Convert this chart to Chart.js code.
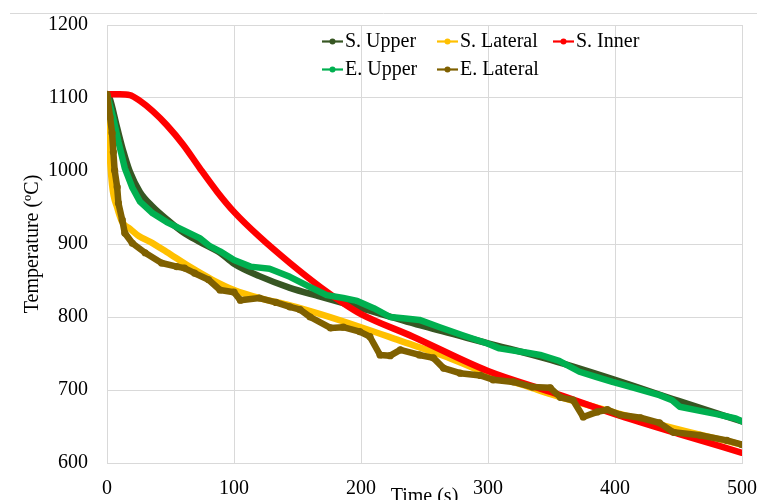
<!DOCTYPE html>
<html>
<head>
<meta charset="utf-8">
<script src="https://cdn.jsdelivr.net/npm/chart.js@4.4.1/dist/chart.umd.min.js"></script>
<style>
  html, body { margin: 0; padding: 0; background: #fff; }
  #wadah { width: 757px; height: 500px; }
</style>
</head>
<body>
<div id="wadah"><canvas id="grafikSuhu" width="757" height="500"></canvas></div>
<script>
// Data: waktu (s) dan suhu (ºC) per seri
const namaSeri = ['S. Upper', 'S. Lateral', 'S. Inner', 'E. Upper', 'E. Lateral'];
const warnaSeri = ['#375623', '#FFC000', '#FF0000', '#00B050', '#7F6000'];

const sUpperWaktu = [0, 2, 8, 13, 18, 26, 36, 47, 60, 73, 89, 100, 120, 144, 168, 200, 250, 300, 350, 400, 450, 500];
const sUpperSuhu = [1105, 1100, 1059, 1026, 999, 971, 951, 934, 916, 903, 888, 873, 856, 840, 828, 812, 787, 764, 741, 714, 685, 657];

const sLateralWaktu = [0, 1.3, 4, 8, 12, 18, 25, 34, 47, 65, 83, 100, 120, 144, 168, 200, 230, 268, 300, 331, 350, 400, 450, 500];
const sLateralSuhu = [1105, 1049, 981, 950, 930, 921, 911, 903, 889, 869, 851, 837, 826, 816, 804, 786, 768, 745, 722, 705, 694, 669, 646, 625];

const sInnerWaktu = [0, 10, 18, 26, 36, 47, 60, 73, 87, 100, 120, 144, 168, 186, 200, 241, 300, 350, 400, 450, 500];
const sInnerSuhu = [1105, 1105, 1104, 1096, 1082, 1063, 1036, 1004, 971, 944, 910, 874, 841, 819, 804, 773, 726, 697, 667, 640, 614];

const eUpperWaktu = [0, 5, 9, 14, 20, 26, 36, 47, 60, 73, 81, 89, 100, 113, 128, 144, 160, 173, 186, 197, 210, 223, 235, 246, 262, 280, 299, 309, 331, 341, 356, 372, 385, 398, 415, 435, 445, 451, 465, 480, 495, 500];
const eUpperSuhu = [1105, 1072, 1040, 1004, 977, 958, 942, 930, 919, 908, 897, 890, 878, 869, 866, 855, 841, 830, 826, 822, 812, 800, 798, 796, 786, 775, 764, 757, 751, 748, 740, 725, 718, 711, 703, 693, 686, 677, 672, 667, 661, 657];

const eLateralWaktu = [0, 2.4, 4, 5, 6, 8, 9, 12, 14, 20, 30, 43, 55, 61, 69, 80, 89, 100, 105, 120, 133, 144, 152, 160, 176, 186, 199, 207, 215, 223, 231, 246, 257, 265, 278, 294, 304, 320, 335, 349, 357, 367, 375, 386, 394, 404, 420, 435, 446, 467, 488, 500];
const eLateralSuhu = [1105, 1074, 1052, 1026, 1001, 978, 956, 933, 915, 901, 888, 874, 869, 867, 860, 851, 837, 834, 823, 826, 820, 814, 810, 800, 785, 786, 780, 773, 748, 747, 755, 748, 744, 730, 723, 720, 714, 711, 704, 703, 690, 686, 663, 670, 673, 666, 662, 655, 642, 638, 631, 625];

const tickWaktu = [0, 100, 200, 300, 400, 500];
const tickSuhu = [600, 700, 800, 900, 1000, 1100, 1200];

(function () {
  const hurufSerif = '"Liberation Serif", "Times New Roman", serif';

  // Gabungkan waktu & suhu menjadi titik {x, y}
  function jadikanTitik(waktu, suhu) {
    return waktu.map((t, i) => ({ x: t, y: suhu[i] }));
  }

  const semuaWaktu = [sUpperWaktu, sLateralWaktu, sInnerWaktu, eUpperWaktu, eLateralWaktu];
  const semuaSuhu = [sUpperSuhu, sLateralSuhu, sInnerSuhu, eUpperSuhu, eLateralSuhu];

  const dataset = namaSeri.map((nama, i) => {
    const simulasi = i < 3;
    return {
      label: nama,
      data: jadikanTitik(semuaWaktu[i], semuaSuhu[i]),
      borderColor: warnaSeri[i],
      backgroundColor: warnaSeri[i],
      borderWidth: 6.5,
      borderCapStyle: 'round',
      borderJoinStyle: 'round',
      pointRadius: i === 4 ? 3.6 : 0,
      pointBorderWidth: 0,
      cubicInterpolationMode: simulasi ? 'monotone' : 'default',
      tension: 0,
      order: 4 - i // seri terakhir digambar paling atas (seperti Excel)
    };
  });

  // Posisi legenda (kolom, baris) seperti pada gambar
  const posisiLegenda = [[322, 41.5], [437, 41.5], [553, 41.5], [322, 69.5], [437, 69.5]];

  const pluginHiasan = {
    id: 'hiasan',
    afterDraw(chart) {
      const ctx = chart.ctx;
      const area = chart.chartArea;
      ctx.save();
      // garis bingkai luar bagian atas
      ctx.strokeStyle = '#d9d9d9';
      ctx.lineWidth = 1;
      ctx.beginPath();
      ctx.moveTo(10, 13.5);
      ctx.lineTo(757, 13.5);
      ctx.stroke();

      ctx.fillStyle = '#000';
      ctx.font = '20px ' + hurufSerif;
      ctx.textBaseline = 'middle';

      // legenda
      ctx.textAlign = 'left';
      namaSeri.forEach((nama, i) => {
        const [x, y] = posisiLegenda[i];
        ctx.strokeStyle = warnaSeri[i];
        ctx.lineWidth = 2.2;
        ctx.beginPath();
        ctx.moveTo(x, y);
        ctx.lineTo(x + 21, y);
        ctx.stroke();
        ctx.fillStyle = warnaSeri[i];
        ctx.beginPath();
        ctx.arc(x + 10.5, y, 3, 0, Math.PI * 2);
        ctx.fill();
        ctx.fillStyle = '#000';
        ctx.fillText(nama, x + 23, y);
      });

      // judul sumbu
      ctx.textAlign = 'center';
      ctx.fillText('Time (s)', (area.left + area.right) / 2, 497);
      ctx.translate(33, (area.top + area.bottom) / 2);
      ctx.rotate(-Math.PI / 2);
      ctx.fillText('Temperature (ºC)', 0, 0);
      ctx.restore();
    }
  };

  // eslint-disable-next-line no-undef
  new Chart(document.getElementById('grafikSuhu'), {
    type: 'line',
    data: { datasets: dataset },
    options: {
      responsive: false,
      animation: false,
      devicePixelRatio: 1,
      layout: { padding: { top: 25, right: 15, bottom: 0, left: 0 } },
      plugins: { legend: { display: false }, tooltip: { enabled: false } },
      scales: {
        x: {
          type: 'linear',
          min: tickWaktu[0],
          max: tickWaktu[tickWaktu.length - 1],
          afterBuildTicks: (s) => { s.ticks = tickWaktu.map((v) => ({ value: v })); },
          afterFit: (s) => { s.height = 37; s.paddingLeft = 0; s.paddingRight = 0; },
          grid: { color: '#d9d9d9', drawTicks: false },
          border: { color: '#d9d9d9' },
          ticks: { padding: 14, color: '#000', font: { family: hurufSerif, size: 20 }, maxRotation: 0, callback: (v) => String(v) }
        },
        y: {
          type: 'linear',
          min: tickSuhu[0],
          max: tickSuhu[tickSuhu.length - 1],
          afterBuildTicks: (s) => { s.ticks = tickSuhu.map((v) => ({ value: v })); },
          afterFit: (s) => { s.width = 107; s.paddingTop = 0; s.paddingBottom = 0; },
          grid: { color: '#d9d9d9', drawTicks: false },
          border: { color: '#d9d9d9' },
          ticks: { padding: 19, color: '#000', font: { family: hurufSerif, size: 20 }, callback: (v) => String(v) }
        }
      }
    },
    plugins: [pluginHiasan]
  });
})();
</script>
</body>
</html>
